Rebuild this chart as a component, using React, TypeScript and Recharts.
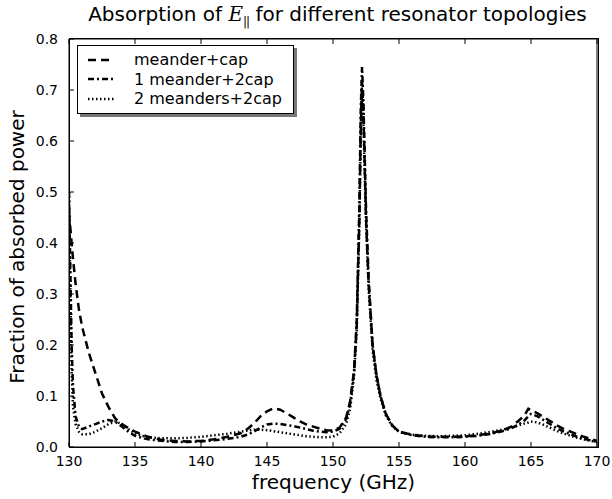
import { LineChart, Line, XAxis, YAxis } from "recharts"

const freq = [
  130, 130.1, 130.2, 130.3, 130.5, 130.75, 131, 131.5, 132, 132.5,
  133, 133.5, 134, 134.5, 135, 135.5, 136, 137, 138, 139,
  140, 141, 142, 143, 143.5, 144, 144.5, 145, 145.5, 146,
  146.5, 147, 147.5, 148, 148.5, 149, 149.5, 150, 150.5, 151,
  151.3, 151.6, 151.8, 152, 152.1, 152.2, 152.3, 152.5, 152.7, 153,
  153.3, 153.6, 154, 154.5, 155, 156, 157, 158, 159, 160,
  161, 162, 163, 163.5, 164, 164.5, 164.8, 165, 165.5, 166,
  166.5, 167, 167.5, 168, 168.5, 169, 169.5, 170,
]

// meander+cap (dashed)
const meanderCap = [
  0.46, 0.43, 0.4, 0.37, 0.32, 0.27, 0.235, 0.185, 0.145, 0.105,
  0.078, 0.056, 0.045, 0.037, 0.03, 0.025, 0.02, 0.014, 0.012, 0.011,
  0.012, 0.015, 0.02, 0.027, 0.035, 0.046, 0.06, 0.07, 0.076, 0.073,
  0.066, 0.058, 0.05, 0.044, 0.04, 0.036, 0.033, 0.032, 0.038, 0.058,
  0.09, 0.15, 0.24, 0.45, 0.62, 0.72, 0.66, 0.45, 0.32, 0.2,
  0.14, 0.1, 0.065, 0.042, 0.03, 0.024, 0.021, 0.02, 0.02, 0.021,
  0.023, 0.027, 0.034, 0.04, 0.05, 0.062, 0.075, 0.072, 0.066, 0.058,
  0.05, 0.042, 0.035, 0.03, 0.025, 0.02, 0.016, 0.012,
]

// 1 meander+2cap (dash-dot)
const oneMeander2Cap = [
  0.5, 0.35, 0.2, 0.12, 0.06, 0.04, 0.035, 0.04, 0.045, 0.05,
  0.053, 0.05, 0.04, 0.03, 0.022, 0.018, 0.015, 0.012, 0.01, 0.01,
  0.011, 0.013, 0.016, 0.02, 0.024, 0.03, 0.038, 0.044, 0.046, 0.045,
  0.043, 0.041, 0.038, 0.035, 0.032, 0.03, 0.029, 0.03, 0.036, 0.055,
  0.085, 0.15, 0.25, 0.48, 0.66, 0.745, 0.68, 0.47, 0.33, 0.2,
  0.14, 0.1, 0.065, 0.042, 0.03, 0.023, 0.02, 0.019, 0.019, 0.02,
  0.022, 0.026, 0.032, 0.037, 0.043, 0.052, 0.06, 0.065, 0.06, 0.052,
  0.044, 0.036, 0.03, 0.025, 0.02, 0.016, 0.013, 0.01,
]

// 2 meanders+2cap (dotted)
const twoMeanders2Cap = [
  0.5, 0.3, 0.15, 0.08, 0.045, 0.03, 0.025, 0.025, 0.03, 0.037,
  0.045, 0.05, 0.045, 0.035, 0.027, 0.022, 0.019, 0.017, 0.017, 0.018,
  0.02, 0.023, 0.026, 0.03, 0.032, 0.034, 0.034, 0.033, 0.031, 0.029,
  0.027, 0.025, 0.023, 0.021, 0.02, 0.019, 0.019, 0.02, 0.027, 0.045,
  0.075, 0.14, 0.23, 0.44, 0.6, 0.7, 0.64, 0.44, 0.31, 0.19,
  0.13, 0.095, 0.062, 0.04, 0.03, 0.024, 0.022, 0.021, 0.022, 0.023,
  0.026, 0.03, 0.035, 0.038, 0.042, 0.046, 0.048, 0.05, 0.048, 0.043,
  0.037, 0.031, 0.026, 0.022, 0.018, 0.015, 0.012, 0.01,
]

const xTicks = [130, 135, 140, 145, 150, 155, 160, 165, 170]
const yTicks = [0, 0.1, 0.2, 0.3, 0.4, 0.5, 0.6, 0.7, 0.8]

const series = [
  { key: "meanderCap", name: "meander+cap", dash: "8 5" },
  { key: "oneMeander2Cap", name: "1 meander+2cap", dash: "6 3 2 3" },
  { key: "twoMeanders2Cap", name: "2 meanders+2cap", dash: "1.5 2.5" },
]

const data = freq.map((f, i) => ({
  freq: f,
  meanderCap: meanderCap[i],
  oneMeander2Cap: oneMeander2Cap[i],
  twoMeanders2Cap: twoMeanders2Cap[i],
}))

const font = "'DejaVu Sans', sans-serif"
const axisLine = { stroke: "#000", strokeWidth: 1 }

// inward tick marks (matplotlib style), drawn from the axis position recharts hands us
function BottomTick(props: any) {
  const { x, y, payload } = props
  return (
    <g>
      <path d={`M${x},${y}V${y - 5}`} stroke="#000" strokeWidth={1} />
      <text x={x} y={y + 19} textAnchor="middle" fontSize={14} fontFamily={font} fill="#000">
        {payload.value}
      </text>
    </g>
  )
}

function TopTick(props: any) {
  const { x, y } = props
  return <path d={`M${x},${y}V${y + 5}`} stroke="#000" strokeWidth={1} />
}

function LeftTick(props: any) {
  const { x, y, payload } = props
  return (
    <g>
      <path d={`M${x},${y}H${x + 5}`} stroke="#000" strokeWidth={1} />
      <text x={x - 11} y={y + 5} textAnchor="end" fontSize={14} fontFamily={font} fill="#000">
        {Number(payload.value).toFixed(1)}
      </text>
    </g>
  )
}

function RightTick(props: any) {
  const { x, y } = props
  return <path d={`M${x},${y}H${x - 5}`} stroke="#000" strokeWidth={1} />
}

function LegendBox() {
  return (
    <div
      style={{
        position: "absolute",
        left: 77,
        top: 45,
        width: 217,
        border: "1px solid #000",
        background: "#fff",
        boxShadow: "3px 3px 0 #777",
        padding: "4px 0 4px 10px",
        fontFamily: font,
        fontSize: 16,
        lineHeight: "19.5px",
        whiteSpace: "nowrap",
        boxSizing: "border-box",
        zIndex: 3,
      }}
    >
      {series.map((s) => (
        <div key={s.key} style={{ display: "flex", alignItems: "center" }}>
          <svg width={26} height={10} style={{ marginRight: 20 }}>
            <path d="M0,5H26" stroke="#000" strokeWidth={2.5} strokeDasharray={s.dash} />
          </svg>
          <span>{s.name}</span>
        </div>
      ))}
    </div>
  )
}

export default function App() {
  return (
    <div style={{ position: "absolute", left: 0, top: 0, width: 612, height: 499, background: "#fff" }}>
      <div
        style={{
          position: "absolute",
          top: 2,
          left: 73,
          width: 529,
          textAlign: "center",
          fontFamily: font,
          fontSize: 20,
          whiteSpace: "nowrap",
          color: "#000",
        }}
      >
        Absorption of <i style={{ fontFamily: "'DejaVu Serif', serif" }}>E</i>
        <sub style={{ fontSize: 12, fontFamily: font, letterSpacing: -1 }}>||</sub> for different resonator topologies
      </div>
      {/* axes box behind the transparent chart, styled like the legend box that does show */}
      <div
        style={{
          position: "absolute",
          left: 69,
          top: 38,
          width: 530,
          height: 410,
          border: "1px solid #000",
          background: "#fff",
          boxSizing: "border-box",
        }}
      />
      <div style={{ position: "absolute", left: 0, top: 0 }}>
        <LineChart width={612} height={499} data={data} margin={{ top: 38, right: 14, bottom: 0, left: 0 }}>
          <XAxis
            xAxisId="bottom"
            dataKey="freq"
            type="number"
            domain={[130, 170]}
            ticks={xTicks}
            height={52}
            tickSize={0}
            tickMargin={0}
            tickLine={false}
            axisLine={axisLine}
            tick={<BottomTick />}
            allowDataOverflow
          />
          <XAxis
            xAxisId="top"
            orientation="top"
            dataKey="freq"
            type="number"
            domain={[130, 170]}
            ticks={xTicks}
            height={1}
            tickSize={0}
            tickMargin={0}
            tickLine={false}
            axisLine={axisLine}
            tick={<TopTick />}
          />
          <YAxis
            yAxisId="left"
            type="number"
            domain={[0, 0.8]}
            ticks={yTicks}
            width={69}
            tickSize={0}
            tickMargin={0}
            tickLine={false}
            axisLine={axisLine}
            tick={<LeftTick />}
            allowDataOverflow
          />
          <YAxis
            yAxisId="right"
            orientation="right"
            type="number"
            domain={[0, 0.8]}
            ticks={yTicks}
            width={1}
            tickSize={0}
            tickMargin={0}
            tickLine={false}
            axisLine={axisLine}
            tick={<RightTick />}
          />
          {series.map((s) => (
            <Line
              key={s.key}
              xAxisId="bottom"
              yAxisId="left"
              type="linear"
              dataKey={s.key}
              name={s.name}
              stroke="#000"
              strokeWidth={2.5}
              strokeDasharray={s.dash}
              dot={false}
              isAnimationActive={false}
            />
          ))}
        </LineChart>
      </div>
      <LegendBox />
      <div
        style={{
          position: "absolute",
          top: 470,
          left: 69,
          width: 529,
          textAlign: "center",
          fontFamily: font,
          fontSize: 20,
        }}
      >
        frequency (GHz)
      </div>
      <div
        style={{
          position: "absolute",
          left: 17,
          top: 247,
          transform: "translate(-50%, -50%) rotate(-90deg)",
          whiteSpace: "nowrap",
          fontFamily: font,
          fontSize: 20,
        }}
      >
        Fraction of absorbed power
      </div>
    </div>
  )
}
